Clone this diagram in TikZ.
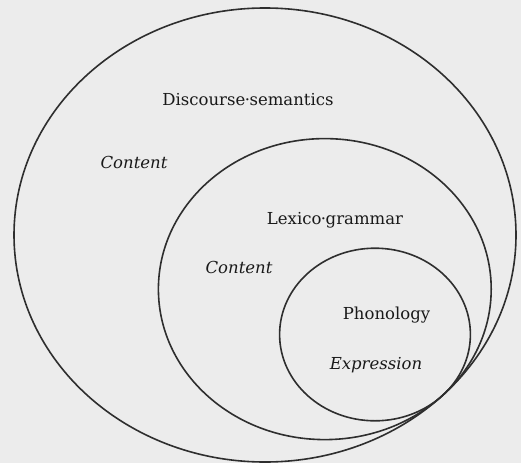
\documentclass[tikz,border=0pt]{standalone}
\usepackage{fontspec}
\setmainfont{DejaVu Serif}
\usepackage{tikz}
\usetikzlibrary{
  calc      % 坐标计算
}
\definecolor{paper}{gray}{0.925}
\newcommand{\middot}{\kern-0.5pt·\kern-0.5pt}
\tikzset{
  level ring/.style={
    draw=black!82,
    line width=1.6pt
  },
  stratum label/.style={
    font=\fontsize{16.5}{19}\selectfont,
    text=black!90,
    inner sep=0pt
  },
  plane label/.style={
    stratum label,
    font=\fontsize{16.5}{19}\selectfont\itshape
  }
}

\begin{document}
\begin{tikzpicture}[x=1pt, y=-1pt]

    % 纸面底色与边界
    \fill[paper] (0,0) rectangle (521,463);
    \useasboundingbox (0,0) rectangle (521,463);

    % 三个椭圆在右下方同一点内切
    % 切点 P = (442.5, 395.5)，缩放比 0.663 与 0.38
    \draw[level ring] (265,235) ellipse [x radius=251, y radius=227];
    \draw[level ring] (324.8,289.1) ellipse [x radius=166.4, y radius=150.5];
    \draw[level ring] (375,334.5) ellipse [x radius=95.4, y radius=86.3];

    % 外层
    \node[stratum label] (discourse) at (248,100) {Discourse\middot semantics};
    \node[plane label] (content1) at (134,162) {Content};

    % 中层
    \node[stratum label] (lexgram) at (335,220) {Lexico\middot grammar};
    \node[plane label] (content2) at (239,267) {Content};

    % 内层
    \node[stratum label] (phonology) at (386.5,315) {Phonology};
    \node[plane label] (expression) at (376,365) {Expression};

\end{tikzpicture}
\end{document}
